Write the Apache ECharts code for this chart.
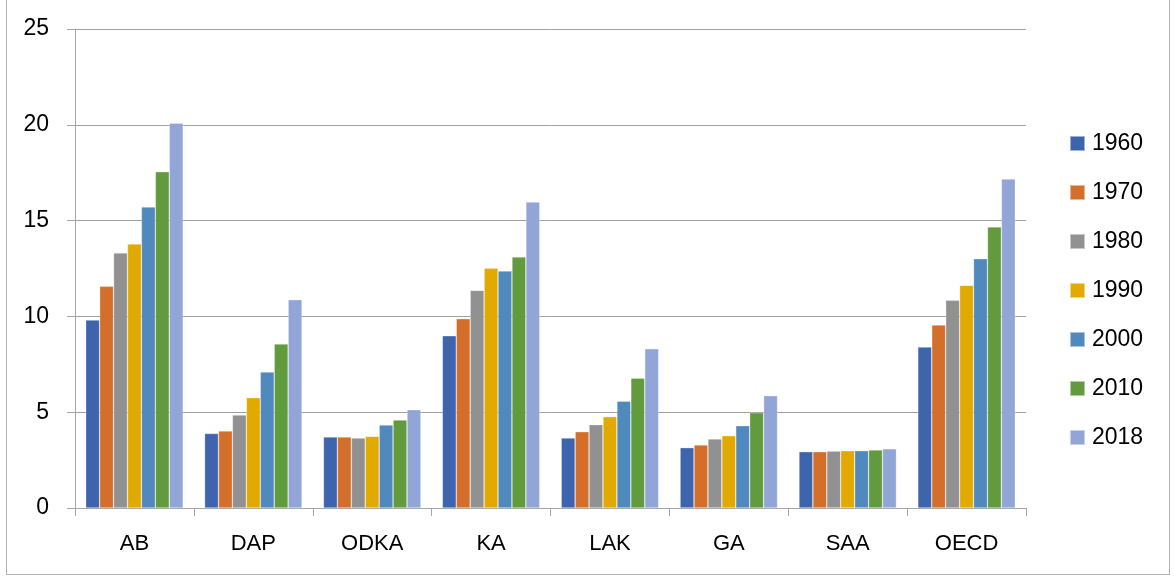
<!DOCTYPE html>
<html>
<head>
<meta charset="utf-8">
<script src="https://cdn.jsdelivr.net/npm/echarts@6/dist/echarts.min.js"></script>
<style>
    html, body { margin: 0; padding: 0; background: #fff; }
    #chart { width: 1174px; height: 579px; }
    #frame { position: absolute; left: 6px; top: -2px; width: 1164px; height: 577px; border: 1px solid #b3b3b3; pointer-events: none; box-sizing: border-box; }
</style>
</head>
<body>
<div id="chart"></div>
<div id="frame"></div>
<script>
var categories = ['AB', 'DAP', 'ODKA', 'KA', 'LAK', 'GA', 'SAA', 'OECD'];
var years = ['1960', '1970', '1980', '1990', '2000', '2010', '2018'];
var colors = ['#3D64AD', '#D46E2B', '#919191', '#E2A900', '#4F89BD', '#629A3E', '#91A5D6'];

// one array per year, values in category order
var v1960 = [9.81, 3.89, 3.71, 8.99, 3.65, 3.15, 2.94, 8.40];
var v1970 = [11.57, 4.02, 3.71, 9.88, 3.98, 3.29, 2.94, 9.55];
var v1980 = [13.31, 4.85, 3.65, 11.36, 4.35, 3.60, 2.97, 10.84];
var v1990 = [13.78, 5.76, 3.74, 12.51, 4.77, 3.77, 2.99, 11.62];
var v2000 = [15.71, 7.10, 4.33, 12.37, 5.58, 4.30, 2.99, 13.01];
var v2010 = [17.55, 8.56, 4.59, 13.10, 6.77, 4.97, 3.03, 14.67];
var v2018 = [20.09, 10.87, 5.13, 15.97, 8.31, 5.86, 3.09, 17.17];

var values = [v1960, v1970, v1980, v1990, v2000, v2010, v2018];
var font = 'Liberation Sans';

var myChart = echarts.init(document.getElementById('chart'));

var series = years.map(function (y, i) {
    return {
        name: y,
        type: 'bar',
        data: values[i],
        barGap: '0%',
        barCategoryGap: '18%',
        itemStyle: { color: colors[i], borderColor: 'rgba(255,255,255,0.5)', borderWidth: 0.6 }
    };
});

var option = {
    animation: false,
    color: colors,
    legend: {
        orient: 'vertical',
        left: 1069,
        top: 132,
        padding: 0,
        itemWidth: 15,
        itemHeight: 15,
        itemGap: 26,
        icon: 'rect',
        textStyle: { fontFamily: font, fontSize: 23, color: '#000', lineHeight: 22, padding: [0, 0, 0, 2] },
        data: years
    },
    grid: { left: 75, right: 148, top: 29, bottom: 71 },
    xAxis: {
        type: 'category',
        data: categories,
        axisLine: { lineStyle: { color: '#a6a6a6', width: 1 } },
        axisTick: { show: true, length: 8, alignWithLabel: false, lineStyle: { color: '#a6a6a6' } },
        axisLabel: { fontFamily: font, fontSize: 22, color: '#000', margin: 25 }
    },
    yAxis: {
        type: 'value',
        min: 0,
        max: 25,
        interval: 5,
        axisLine: { show: true, lineStyle: { color: '#a6a6a6', width: 1 } },
        axisTick: { show: true, length: 8, lineStyle: { color: '#a6a6a6' } },
        splitLine: { lineStyle: { color: '#a0a0a0', width: 1 } },
        axisLabel: { fontFamily: font, fontSize: 23, color: '#000', margin: 26 }
    },
    series: series
};

myChart.setOption(option);
</script>
</body>
</html>
